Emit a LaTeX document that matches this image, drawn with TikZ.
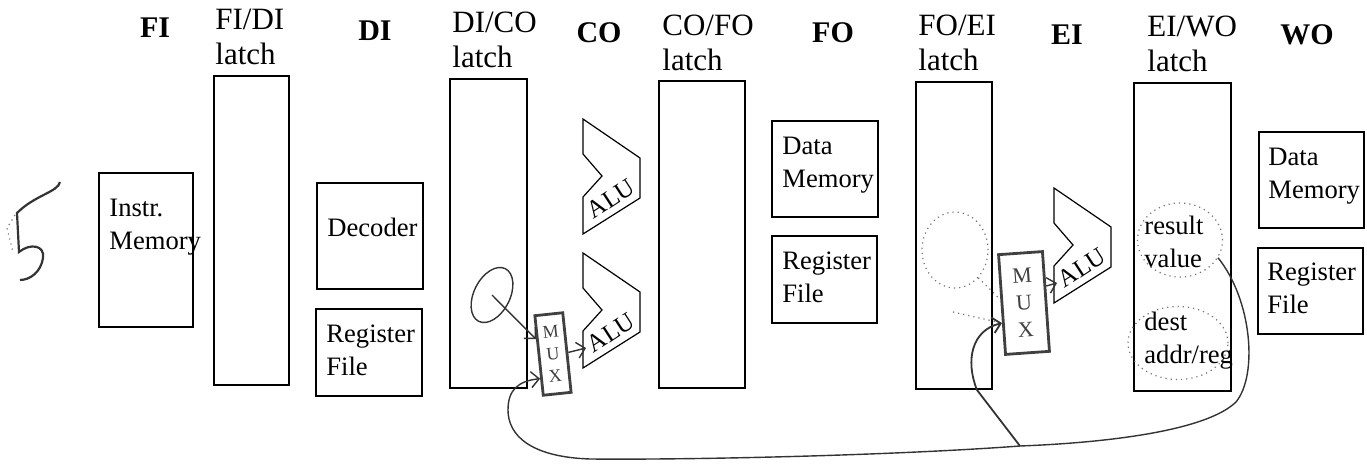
\documentclass[tikz,border=0pt]{standalone}
\usepackage{fontspec}
\setmainfont{Liberation Serif}
\usetikzlibrary{shapes.geometric,fit,calc,arrows.meta}

\tikzset{
  latch/.style={draw, line width=0.6pt, inner sep=0pt},
  unitbox/.style={draw, line width=0.6pt, inner sep=0pt},
  stagename/.style={font=\fontsize{15}{18}\selectfont\bfseries, anchor=base, inner sep=0pt},
  latchname/.style={font=\fontsize{15.5}{17.5}\selectfont, anchor=base west, align=left, inner sep=0pt},
  boxtext/.style={font=\fontsize{13.3}{16.5}\selectfont, anchor=base west, align=left, inner sep=0pt},
  alu/.style={draw, line width=0.6pt},
  alutext/.style={font=\fontsize{12.5}{14}\selectfont, rotate=33, inner sep=0pt},
  mux/.style={draw=black!75, line width=1.4pt, inner sep=0pt, align=center, text=black!75},
  hand/.style={draw=black!80, line width=0.7pt},
  handdot/.style={draw=black!55, line width=0.6pt, dotted},
  loopmark/.style={ellipse, inner sep=0pt},
}

% ALU block: name, top-left x, top-left y
\newcommand{\alublock}[3]{%
  \draw[alu] (#2,#3) -- ++(0,35) -- ++(19,22) -- ++(-19,21) -- ++(0,37) -- ++(57,-36) -- ++(0,-40) -- cycle;
  \node[alutext] (#1) at ($(#2,#3)+(28,80)$) {ALU};
  \coordinate (#1-in) at ($(#2,#3)+(3,95)$);
}

\begin{document}
\begin{tikzpicture}[x=0.5pt,y=-0.5pt]
    \useasboundingbox (0,0) rectangle (1367,466);

    % Stage names
    \node[stagename] (fi) at (155,38) {FI};
    \node[stagename] (di) at (375,40) {DI};
    \node[stagename] (co) at (599,42) {CO};
    \node[stagename] (fo) at (833,42) {FO};
    \node[stagename] (ei) at (1067,44) {EI};
    \node[stagename] (wo) at (1307,44) {WO};

    % Latches (labels anchored on their last line)
    \node[latchname] (fidilbl) at (215,64) {FI/DI\\latch};
    \node[latch, fit={(214,76)(289,385)}] (fidi) {};
    \node[latchname] (dicolbl) at (452,68) {DI/CO\\latch};
    \node[latch, fit={(450,79)(527,388)}] (dico) {};
    \node[latchname] (cofolbl) at (662,70) {CO/FO\\latch};
    \node[latch, fit={(659,81)(745,388)}] (cofo) {};
    \node[latchname] (foeilbl) at (918,70) {FO/EI\\latch};
    \node[latch, fit={(916,82)(992,389)}] (foei) {};
    \node[latchname] (eiwolbl) at (1147,71) {EI/WO\\latch};
    \node[latch, fit={(1134,83)(1231,391)}] (eiwo) {};

    % Units
    \node[unitbox, fit={(99,173)(193,327)}] (imem) {};
    \node[boxtext] (imemtxt) at (109,249) {Instr.\\Memory};
    \node[unitbox, fit={(317,183)(423,289)}] (dec) {};
    \node[boxtext] (dectxt) at (327,236) {Decoder};
    \node[unitbox, fit={(316,309)(422,396)}] (rfdi) {};
    \node[boxtext] (rfditxt) at (326,375) {Register\\File};
    \node[unitbox, fit={(772,121)(878,217)}] (dmfo) {};
    \node[boxtext] (dmfotxt) at (782,187) {Data\\Memory};
    \node[unitbox, fit={(772,236)(877,323)}] (rffo) {};
    \node[boxtext] (rffotxt) at (782,302) {Register\\File};
    \node[unitbox, fit={(1259,132)(1364,228)}] (dmwo) {};
    \node[boxtext] (dmwotxt) at (1268,198) {Data\\Memory};
    \node[unitbox, fit={(1258,248)(1363,334)}] (rfwo) {};
    \node[boxtext] (rfwotxt) at (1267,313) {Register\\File};

    % ALUs
    \alublock{alu1}{583}{119}
    \alublock{alu2}{583}{253}
    \alublock{alu3}{1054}{188}

    % Latch contents
    \node[boxtext] (restxt) at (1144,267) {result\\value};
    \node[boxtext] (dsttxt) at (1144,363) {dest\\addr/reg};

    % Hand-drawn muxes
    \node[mux, rotate=6, minimum width=14pt, minimum height=40pt,
          font=\fontsize{9}{11}\selectfont] (mux1) at (553,354) {M\\U\\X};
    \node[mux, rotate=4, minimum width=22pt, minimum height=50pt,
          font=\fontsize{11}{13.5}\selectfont] (mux2) at (1024,303) {M\\U\\X};

    % Hand-drawn marks
    \node[loopmark, hand, rotate=63, minimum width=29.5pt, minimum height=18pt] (c1) at (492,295) {};
    \node[loopmark, handdot, minimum width=33pt, minimum height=38pt] (foc) at (955,250) {};
    \node[loopmark, handdot, minimum width=42.5pt, minimum height=37pt] (res) at (1180,240) {};
    \node[loopmark, handdot, minimum width=50pt, minimum height=36.5pt] (dst) at (1178,343) {};

    \coordinate (m1a) at ($(mux1.north west)!0.3!(mux1.south west)$);
    \coordinate (m1b) at ($(mux1.north west)!0.78!(mux1.south west)$);
    \coordinate (m2a) at ($(mux2.north west)!0.45!(mux2.south west)$);
    \coordinate (m2b) at ($(mux2.north west)!0.68!(mux2.south west)$);
    \coordinate (m2out) at ($(mux2.north east)!0.35!(mux2.south east)$);
    \coordinate (fotap) at (953,312);
    \coordinate (j) at (1020,446);

    % Forwarding paths
    \draw[hand, -{Straight Barb[length=4pt]}] (c1.center) -- (m1a);
    \draw[hand, -{Straight Barb[length=4pt]}] (mux1.east) -- (alu2-in);
    \draw[hand, -{Straight Barb[length=4pt]}] (m2out) -- (alu3-in);
    \draw[handdot] (foc.-50) -- (m2a);
    \draw[handdot] (fotap) -- (m2b);
    \draw[hand, -{Straight Barb[length=4pt]}] (res.-25)
        .. controls (1252,300) and (1258,375) .. (1236,402)
        .. controls (1205,432) and (1100,443) .. (j)
        .. controls (900,455) and (700,460) .. (590,459)
        .. controls (530,457) and (508,435) .. (508,410)
        .. controls (508,390) and (518,381) .. (m1b);
    \draw[hand, line width=0.9pt, -{Straight Barb[length=4pt]}] (j) -- (977,390)
        .. controls (965,360) and (972,330) .. (m2b);

    % Page number
    \draw[hand, line width=1.1pt] (60,182) .. controls (58,192) and (35,195) .. (17,213)
        -- (19,252) .. controls (30,243) and (45,245) .. (43,258)
        .. controls (41,272) and (30,280) .. (20,280);
    \draw[handdot] (15,215) -- (7,228) -- (13,252);
\end{tikzpicture}
\end{document}
